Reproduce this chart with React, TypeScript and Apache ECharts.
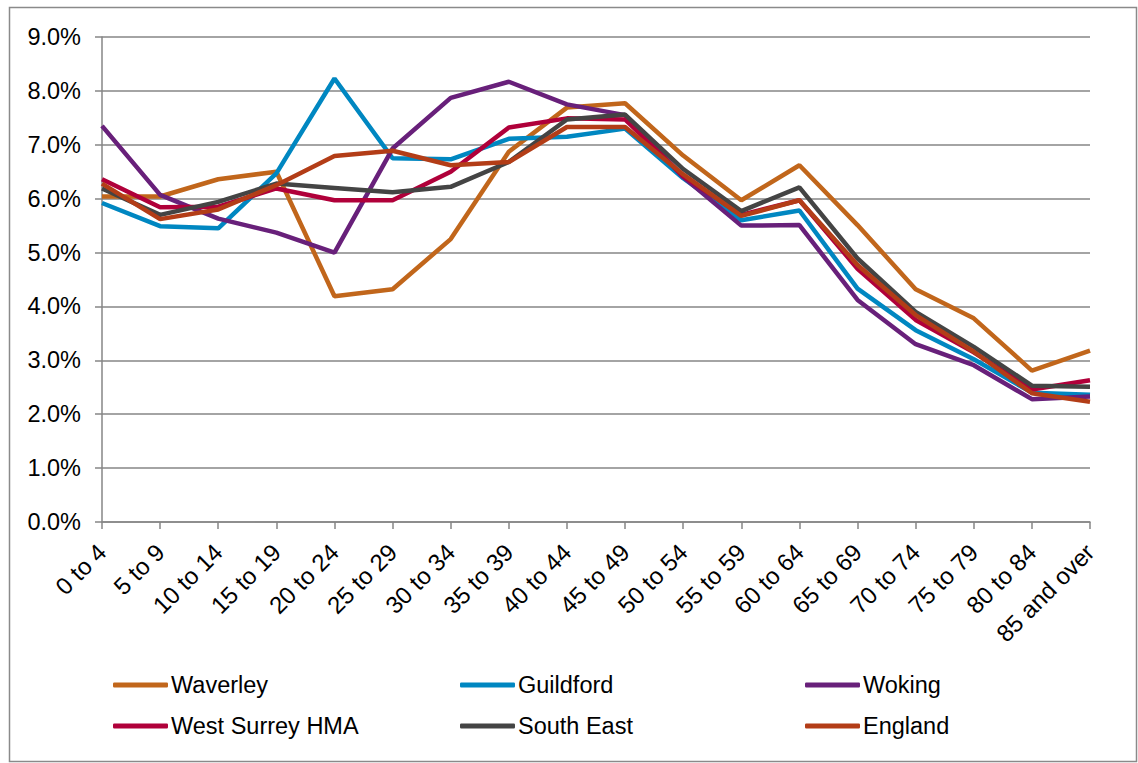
import React, { useEffect, useRef } from "react";
import * as echarts from "echarts";

const categories = [
  "0 to 4", "5 to 9", "10 to 14", "15 to 19", "20 to 24", "25 to 29",
  "30 to 34", "35 to 39", "40 to 44", "45 to 49", "50 to 54", "55 to 59",
  "60 to 64", "65 to 69", "70 to 74", "75 to 79", "80 to 84", "85 and over",
];

const waverley = [6.04, 6.04, 6.36, 6.5, 4.19, 4.32, 5.25, 6.87, 7.69, 7.77, 6.8, 5.97, 6.62, 5.51, 4.32, 3.78, 2.81, 3.18];
const guildford = [5.92, 5.49, 5.45, 6.47, 8.23, 6.75, 6.73, 7.11, 7.15, 7.3, 6.38, 5.6, 5.78, 4.33, 3.56, 3.02, 2.4, 2.36];
const woking = [7.35, 6.07, 5.63, 5.37, 5.0, 6.93, 7.87, 8.17, 7.75, 7.55, 6.4, 5.5, 5.51, 4.12, 3.3, 2.91, 2.28, 2.33];
const westSurrey = [6.36, 5.84, 5.85, 6.19, 5.97, 5.97, 6.5, 7.32, 7.49, 7.47, 6.42, 5.7, 5.97, 4.7, 3.75, 3.15, 2.46, 2.63];
const southEast = [6.19, 5.7, 5.94, 6.28, 6.2, 6.12, 6.22, 6.68, 7.47, 7.56, 6.55, 5.77, 6.21, 4.89, 3.9, 3.25, 2.53, 2.51];
const england = [6.28, 5.62, 5.8, 6.25, 6.79, 6.89, 6.62, 6.68, 7.33, 7.33, 6.45, 5.68, 5.97, 4.77, 3.84, 3.16, 2.39, 2.23];

const seriesNames = ["Waverley", "Guildford", "Woking", "West Surrey HMA", "South East", "England"];
const seriesData = [waverley, guildford, woking, westSurrey, southEast, england];
const seriesColors = ["#C1661B", "#0087C1", "#68207A", "#B0003A", "#444444", "#B33D17"];

const FONT = "Liberation Sans, Arial, sans-serif";

export default function App() {
  const ref = useRef<HTMLDivElement>(null);
  useEffect(() => {
    document.body.style.margin = "0";
    if (!ref.current) return;
    const chart = echarts.init(ref.current, null, { renderer: "svg" });
    const legendPos = [
      [113, 673], [460, 673], [805, 673],
      [113, 714], [460, 714], [805, 714],
    ];
    chart.setOption({
      animation: false,
      backgroundColor: "#ffffff",
      textStyle: { fontFamily: FONT },
      graphic: [
        {
          type: "rect",
          shape: { x: 9.5, y: 7.5, width: 1127, height: 754 },
          style: { fill: "none", stroke: "#8a8a8a", lineWidth: 1.5 },
          silent: true,
        },
      ],
      grid: { left: 102, right: 48, top: 37, bottom: 241, containLabel: false },
      legend: seriesNames.map((n, i) => ({
        data: [n],
        left: legendPos[i][0],
        top: legendPos[i][1],
        icon: "roundRect",
        itemWidth: 55,
        itemHeight: 5,
        itemGap: 0,
        padding: 0,
        textStyle: { fontFamily: FONT, fontSize: 23.5, color: "#000", padding: [0, 0, 0, -2] },
        selectedMode: false,
      })),
      xAxis: {
        type: "category",
        data: categories,
        boundaryGap: false,
        axisLine: { lineStyle: { color: "#868686", width: 1.5 } },
        axisTick: { show: true, length: 7, alignWithLabel: true, lineStyle: { color: "#868686", width: 1.5 } },
        axisLabel: {
          rotate: 45,
          interval: 0,
          fontFamily: FONT,
          fontSize: 24,
          color: "#000",
          margin: 26,
        },
        splitLine: { show: false },
      },
      yAxis: {
        type: "value",
        min: 0,
        max: 9,
        interval: 1,
        axisLine: { show: true, lineStyle: { color: "#868686", width: 1.5 } },
        axisTick: { show: true, length: 7, lineStyle: { color: "#868686", width: 1.5 } },
        axisLabel: {
          formatter: (v: number) => v.toFixed(1) + "%",
          fontFamily: FONT,
          fontSize: 23.5,
          color: "#000",
          margin: 21,
        },
        splitLine: { show: true, lineStyle: { color: "#868686", width: 1.5 } },
      },
      series: seriesNames.map((n, i) => ({
        name: n,
        type: "line",
        data: seriesData[i],
        symbol: "none",
        color: seriesColors[i],
        lineStyle: { width: 4.5, color: seriesColors[i] },
        z: 2 + i,
      })),
    });
    return () => chart.dispose();
  }, []);
  return <div ref={ref} style={{ width: 1138, height: 763 }} />;
}
